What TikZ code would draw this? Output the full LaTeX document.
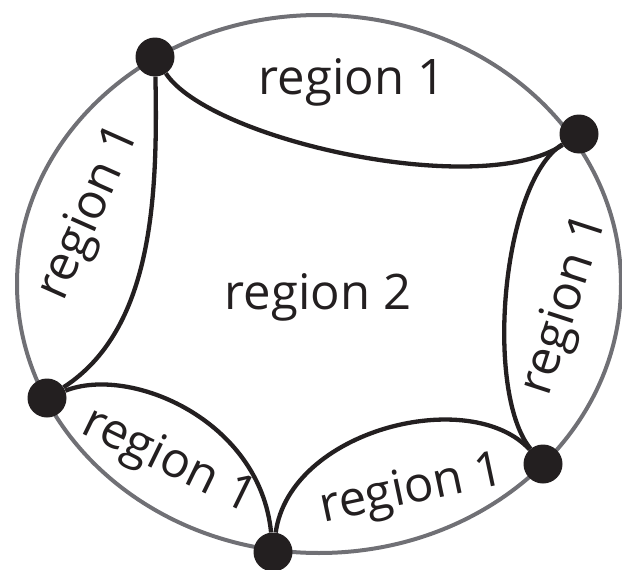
\documentclass[tikz,border=0pt]{standalone}
\usepackage{fontspec}
\setmainfont{Open Sans}
\definecolor{ink}{RGB}{35,31,32}
\definecolor{rim}{RGB}{112,112,117}
\begin{document}
\begin{tikzpicture}[x=1pt,y=-1pt,
  dot/.style={circle,fill=ink,inner sep=0pt,minimum size=39pt},
  cut/.style={ink,line width=4.3pt},
  lbl/.style={text=ink,font=\fontsize{49}{58}\selectfont,inner sep=0pt}]
  \useasboundingbox (0,0) rectangle (622,570);
  \draw[rim,line width=4pt] (319,284) ellipse [x radius=302pt,y radius=269pt];
  \node[dot] (a) at (155,57) {};
  \node[dot] (b) at (579,134) {};
  \node[dot] (c) at (47,398) {};
  \node[dot] (d) at (273,552) {};
  \node[dot] (e) at (543,464) {};
  \draw[cut] (a) .. controls (210,140) and (480,200) .. (b);
  \draw[cut] (a) .. controls (158,200) and (152,330) .. (c);
  \draw[cut] (c) .. controls (130,365) and (260,420) .. (d);
  \draw[cut] (d) .. controls (290,430) and (470,385) .. (e);
  \draw[cut] (b) .. controls (502,182) and (484,392) .. (e);
  \node[lbl] (top) at (352,82) {region 1};
  \node[lbl,rotate=66] (left) at (90,213) {region 1};
  \node[lbl,rotate=72] (right) at (566,305) {region 1};
  \node[lbl,rotate=-26] (lowleft) at (168,462) {region 1};
  \node[lbl,rotate=12] (lowright) at (412,491) {region 1};
  \node[lbl] (mid) at (318,297) {region 2};
\end{tikzpicture}
\end{document}
